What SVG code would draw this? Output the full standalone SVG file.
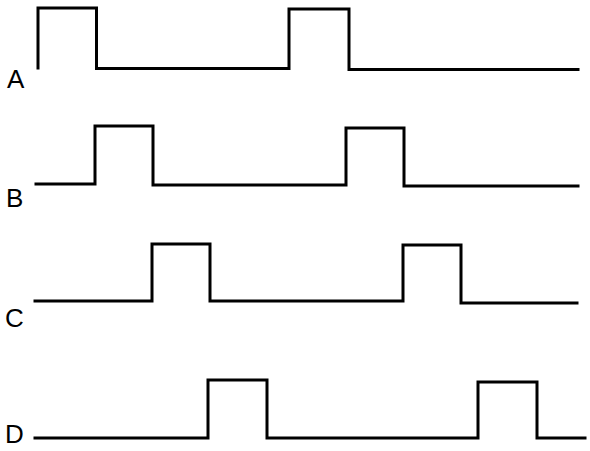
<svg xmlns="http://www.w3.org/2000/svg" width="590" height="451" viewBox="0 0 590 451">
<style>
.w{fill:none;stroke:#000;stroke-width:3;stroke-linejoin:miter;stroke-linecap:square}
.l{font-family:"Liberation Sans",Arial,sans-serif;font-size:26px;fill:#000}
</style>
<rect width="590" height="451" fill="#fff"/>
<g id="connectors">
<path id="wA" class="w" d="M38,68 V8 H96.5 V68.5 H289 V9 H349 V69.5 H578"/>
<path id="wB" class="w" d="M36,184 H95 V126 H153 V185 H346 V128 H404 V186 H578"/>
<path id="wC" class="w" d="M35,301 H152 V244 H210 V301 H403 V245 H461 V303 H577"/>
<path id="wD" class="w" d="M35,438 H208 V380 H267 V438 H478 V382 H537 V438 H585"/>
</g>
<g id="labelA"><text class="l" x="7" y="88">A</text></g>
<g id="labelB"><text class="l" x="6" y="207">B</text></g>
<g id="labelC"><text class="l" x="5" y="327">C</text></g>
<g id="labelD"><text class="l" x="5" y="443">D</text></g>
</svg>
